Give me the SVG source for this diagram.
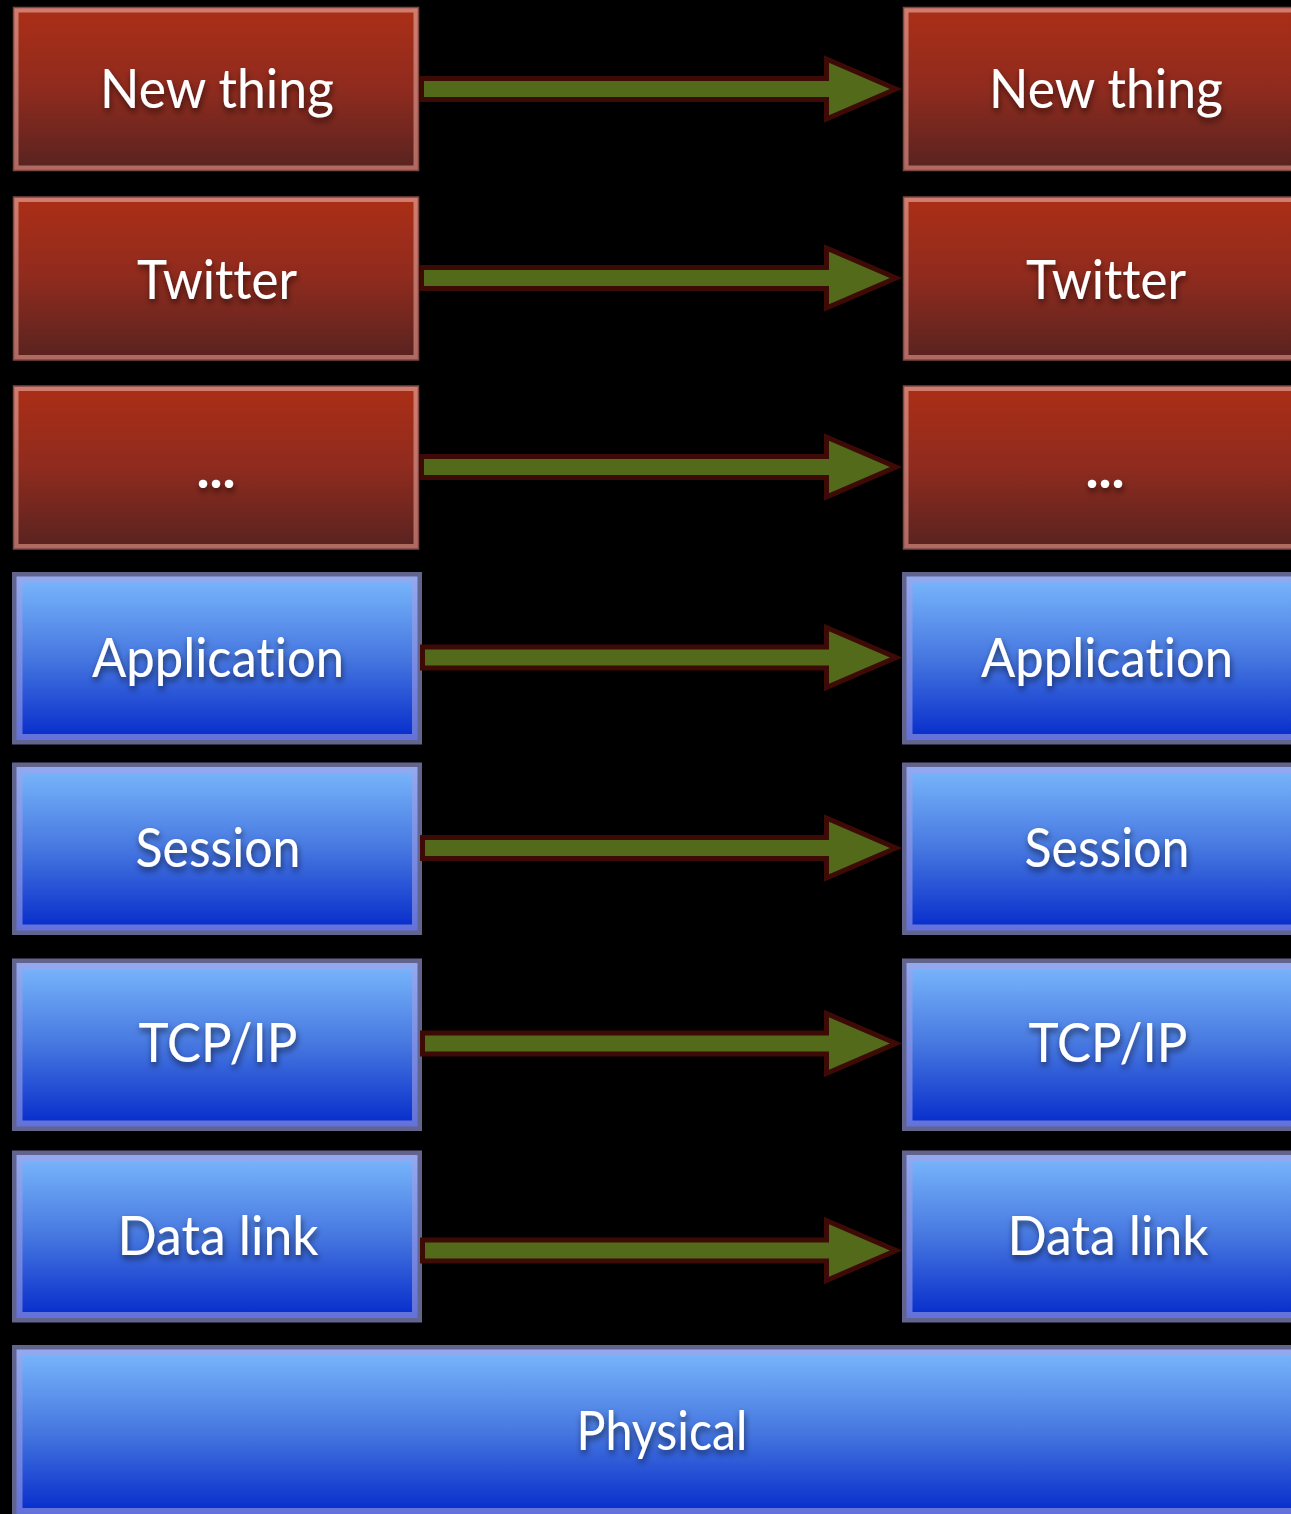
<svg xmlns="http://www.w3.org/2000/svg" width="1291" height="1514" viewBox="0 0 1291 1514">
<defs>
<linearGradient id="redFill" x1="0" y1="0" x2="0" y2="1">
<stop offset="0" stop-color="#aa2e17"/>
<stop offset="0.5" stop-color="#8f2b1e"/>
<stop offset="1" stop-color="#5b2320"/>
</linearGradient>
<linearGradient id="redBand" x1="0" y1="0" x2="0" y2="1">
<stop offset="0" stop-color="#d07c6e"/>
<stop offset="1" stop-color="#b06a62"/>
</linearGradient>
<linearGradient id="blueFill" x1="0" y1="0" x2="0" y2="1">
<stop offset="0" stop-color="#76b3fa"/>
<stop offset="0.5" stop-color="#4677e0"/>
<stop offset="1" stop-color="#0a30cc"/>
</linearGradient>
<linearGradient id="blueBand" x1="0" y1="0" x2="0" y2="1">
<stop offset="0" stop-color="#93a9ef"/>
<stop offset="1" stop-color="#6272da"/>
</linearGradient>
<filter id="shadow" x="-10%" y="-30%" width="120%" height="170%">
<feDropShadow dx="1" dy="4" stdDeviation="3" flood-color="#000" flood-opacity="0.55"/>
</filter>
</defs>
<style>
.rOut{fill:url(#redBand);stroke:#7e4640;stroke-width:1.5}
.rIn{fill:url(#redFill)}
.bOut{fill:#62648e}
.bBand{fill:url(#blueBand)}
.bIn{fill:url(#blueFill)}
.lbl{font-family:Lato,"Open Sans","Liberation Sans",sans-serif;font-size:55px;fill:#ffffff;text-anchor:middle;filter:url(#shadow);font-variant-ligatures:none;font-feature-settings:"liga" 0,"clig" 0}
.dots{font-weight:bold}
.arrow{fill:#536a1a;stroke:#3d0a05;stroke-width:5;stroke-linejoin:miter;stroke-miterlimit:10}
</style>
<rect width="1291" height="1514" fill="#000"/>

<g id="newthing-left">
<rect class="rOut" x="13.5" y="7.5" width="405" height="163"/>
<rect class="rIn" x="18.5" y="12.5" width="395" height="153"/>
<text class="lbl" x="217" y="108" textLength="234" lengthAdjust="spacingAndGlyphs">New thing</text>
</g>
<g id="newthing-right">
<rect class="rOut" x="903.5" y="7.5" width="405" height="163"/>
<rect class="rIn" x="908.5" y="12.5" width="395" height="153"/>
<text class="lbl" x="1106" y="108" textLength="234" lengthAdjust="spacingAndGlyphs">New thing</text>
</g>
<g id="twitter-left">
<rect class="rOut" x="13.5" y="197" width="405" height="163"/>
<rect class="rIn" x="18.5" y="202" width="395" height="153"/>
<text class="lbl" x="217" y="299" textLength="160" lengthAdjust="spacingAndGlyphs">Twitter</text>
</g>
<g id="twitter-right">
<rect class="rOut" x="903.5" y="197" width="405" height="163"/>
<rect class="rIn" x="908.5" y="202" width="395" height="153"/>
<text class="lbl" x="1106" y="299" textLength="160" lengthAdjust="spacingAndGlyphs">Twitter</text>
</g>
<g id="dots-left">
<rect class="rOut" x="13.5" y="386" width="405" height="163"/>
<rect class="rIn" x="18.5" y="391" width="395" height="153"/>
<text class="lbl dots" x="216" y="488">...</text>
</g>
<g id="dots-right">
<rect class="rOut" x="903.5" y="386" width="405" height="163"/>
<rect class="rIn" x="908.5" y="391" width="395" height="153"/>
<text class="lbl dots" x="1105" y="488">...</text>
</g>

<g id="application-left">
<rect class="bOut" x="12" y="572" width="410" height="172.5"/>
<rect class="bBand" x="16.5" y="576.5" width="401" height="163.5"/>
<rect class="bIn" x="22.5" y="582.5" width="389.5" height="151.5"/>
<text class="lbl" x="218" y="677" textLength="252" lengthAdjust="spacingAndGlyphs">Application</text>
</g>
<g id="application-right">
<rect class="bOut" x="902" y="572" width="410" height="172.5"/>
<rect class="bBand" x="906.5" y="576.5" width="401" height="163.5"/>
<rect class="bIn" x="912.5" y="582.5" width="389.5" height="151.5"/>
<text class="lbl" x="1107" y="677" textLength="252" lengthAdjust="spacingAndGlyphs">Application</text>
</g>
<g id="session-left">
<rect class="bOut" x="12" y="762.5" width="410" height="172.5"/>
<rect class="bBand" x="16.5" y="767" width="401" height="163.5"/>
<rect class="bIn" x="22.5" y="773" width="389.5" height="151.5"/>
<text class="lbl" x="218" y="867" textLength="165" lengthAdjust="spacingAndGlyphs">Session</text>
</g>
<g id="session-right">
<rect class="bOut" x="902" y="762.5" width="410" height="172.5"/>
<rect class="bBand" x="906.5" y="767" width="401" height="163.5"/>
<rect class="bIn" x="912.5" y="773" width="389.5" height="151.5"/>
<text class="lbl" x="1107" y="867" textLength="165" lengthAdjust="spacingAndGlyphs">Session</text>
</g>
<g id="tcpip-left">
<rect class="bOut" x="12" y="958.5" width="410" height="172.5"/>
<rect class="bBand" x="16.5" y="963" width="401" height="163.5"/>
<rect class="bIn" x="22.5" y="969" width="389.5" height="151.5"/>
<text class="lbl" x="218" y="1062" textLength="159" lengthAdjust="spacingAndGlyphs">TCP/IP</text>
</g>
<g id="tcpip-right">
<rect class="bOut" x="902" y="958.5" width="410" height="172.5"/>
<rect class="bBand" x="906.5" y="963" width="401" height="163.5"/>
<rect class="bIn" x="912.5" y="969" width="389.5" height="151.5"/>
<text class="lbl" x="1108" y="1062" textLength="159" lengthAdjust="spacingAndGlyphs">TCP/IP</text>
</g>
<g id="datalink-left">
<rect class="bOut" x="12" y="1150.5" width="410" height="172"/>
<rect class="bBand" x="16.5" y="1155" width="401" height="163"/>
<rect class="bIn" x="22.5" y="1161" width="389.5" height="151"/>
<text class="lbl" x="218" y="1255" textLength="201" lengthAdjust="spacingAndGlyphs">Data link</text>
</g>
<g id="datalink-right">
<rect class="bOut" x="902" y="1150.5" width="410" height="172"/>
<rect class="bBand" x="906.5" y="1155" width="401" height="163"/>
<rect class="bIn" x="912.5" y="1161" width="389.5" height="151"/>
<text class="lbl" x="1108" y="1255" textLength="201" lengthAdjust="spacingAndGlyphs">Data link</text>
</g>
<g id="physical">
<rect class="bOut" x="12" y="1345" width="1300" height="180"/>
<rect class="bBand" x="16.5" y="1349.5" width="1290" height="164.5"/>
<rect class="bIn" x="22.5" y="1355.5" width="1280" height="152.5"/>
<text class="lbl" x="662" y="1450" textLength="171" lengthAdjust="spacingAndGlyphs">Physical</text>
</g>

<g id="connectors">
<path class="arrow" d="M421.5,78.5 H826.5 V59 L896,89 L826.5,119 V99.5 H421.5 Z"/>
<path class="arrow" d="M421.5,267.5 H826.5 V248 L896,278 L826.5,308 V288.5 H421.5 Z"/>
<path class="arrow" d="M421.5,456.5 H826.5 V437 L896,467 L826.5,497 V477.5 H421.5 Z"/>
<path class="arrow" d="M422.5,647 H826.5 V627.5 L896,657.5 L826.5,687.5 V668 H422.5 Z"/>
<path class="arrow" d="M422.5,837.5 H826.5 V818 L896,848 L826.5,878 V858.5 H422.5 Z"/>
<path class="arrow" d="M422.5,1033 H826.5 V1013.5 L896,1043.5 L826.5,1073.5 V1054 H422.5 Z"/>
<path class="arrow" d="M422.5,1240 H826.5 V1220.5 L896,1250.5 L826.5,1280.5 V1261 H422.5 Z"/>
</g>
</svg>
